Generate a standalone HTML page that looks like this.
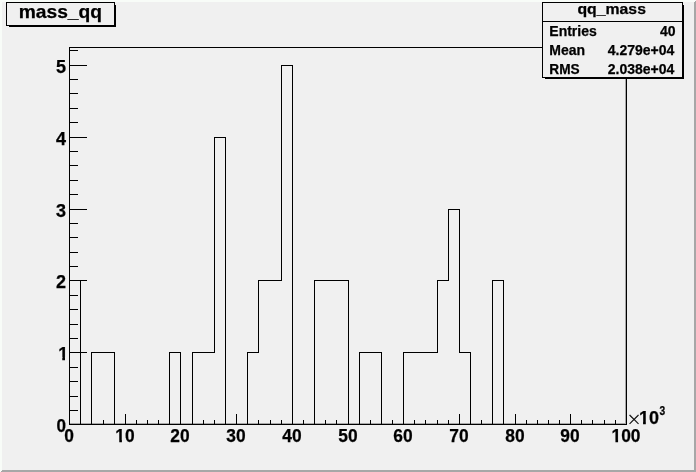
<!DOCTYPE html>
<html><head><meta charset="utf-8"><title>mass_qq</title>
<style>html,body{margin:0;padding:0;background:#f0f0f0;}svg{display:block;}</style>
</head><body>
<svg width="696" height="472" viewBox="0 0 696 472">
<rect width="696" height="472" fill="#f0f0f0"/>
<g shape-rendering="crispEdges" stroke-width="1">
<polygon points="0,0 696,0 694,2 2,2 2,470 0,472" fill="#f8fcf8"/>
<polygon points="696,0 696,472 0,472 2,470 694,470 694,2" fill="#a7a7a7"/>
<rect x="70" y="423" width="556" height="1" fill="#a7a7a7"/>
<rect x="625" y="48" width="1" height="376" fill="#a7a7a7"/>
<path d="M69.5,424.5 L69.5,280.5 L80.5,280.5 L80.5,424.5 L91.5,424.5 L91.5,352.5 L103.5,352.5 L103.5,352.5 L114.5,352.5 L114.5,424.5 L125.5,424.5 L125.5,424.5 L136.5,424.5 L136.5,424.5 L147.5,424.5 L147.5,424.5 L158.5,424.5 L158.5,424.5 L169.5,424.5 L169.5,352.5 L180.5,352.5 L180.5,424.5 L192.5,424.5 L192.5,352.5 L203.5,352.5 L203.5,352.5 L214.5,352.5 L214.5,137.5 L225.5,137.5 L225.5,424.5 L236.5,424.5 L236.5,424.5 L247.5,424.5 L247.5,352.5 L258.5,352.5 L258.5,280.5 L270.5,280.5 L270.5,280.5 L281.5,280.5 L281.5,65.5 L292.5,65.5 L292.5,424.5 L303.5,424.5 L303.5,424.5 L314.5,424.5 L314.5,280.5 L325.5,280.5 L325.5,280.5 L336.5,280.5 L336.5,280.5 L348.5,280.5 L348.5,424.5 L359.5,424.5 L359.5,352.5 L370.5,352.5 L370.5,352.5 L381.5,352.5 L381.5,424.5 L392.5,424.5 L392.5,424.5 L403.5,424.5 L403.5,352.5 L414.5,352.5 L414.5,352.5 L425.5,352.5 L425.5,352.5 L437.5,352.5 L437.5,280.5 L448.5,280.5 L448.5,209.5 L459.5,209.5 L459.5,352.5 L470.5,352.5 L470.5,424.5 L481.5,424.5 L481.5,424.5 L492.5,424.5 L492.5,280.5 L503.5,280.5 L503.5,424.5 L515.5,424.5 L515.5,424.5 L526.5,424.5 L526.5,424.5 L537.5,424.5 L537.5,424.5 L548.5,424.5 L548.5,424.5 L559.5,424.5 L559.5,424.5 L570.5,424.5 L570.5,424.5 L581.5,424.5 L581.5,424.5 L592.5,424.5 L592.5,424.5 L604.5,424.5 L604.5,424.5 L615.5,424.5 L615.5,424.5 L626.5,424.5 L626.5,424.5" fill="none" stroke="#000"/>
<rect x="69.5" y="47.5" width="557" height="377" fill="none" stroke="#000"/>
<line x1="69.5" y1="413.5" x2="69.5" y2="424.5" stroke="#000"/>
<line x1="80.5" y1="419.5" x2="80.5" y2="424.5" stroke="#000"/>
<line x1="91.5" y1="419.5" x2="91.5" y2="424.5" stroke="#000"/>
<line x1="103.5" y1="419.5" x2="103.5" y2="424.5" stroke="#000"/>
<line x1="114.5" y1="419.5" x2="114.5" y2="424.5" stroke="#000"/>
<line x1="125.5" y1="413.5" x2="125.5" y2="424.5" stroke="#000"/>
<line x1="136.5" y1="419.5" x2="136.5" y2="424.5" stroke="#000"/>
<line x1="147.5" y1="419.5" x2="147.5" y2="424.5" stroke="#000"/>
<line x1="158.5" y1="419.5" x2="158.5" y2="424.5" stroke="#000"/>
<line x1="169.5" y1="419.5" x2="169.5" y2="424.5" stroke="#000"/>
<line x1="180.5" y1="413.5" x2="180.5" y2="424.5" stroke="#000"/>
<line x1="192.5" y1="419.5" x2="192.5" y2="424.5" stroke="#000"/>
<line x1="203.5" y1="419.5" x2="203.5" y2="424.5" stroke="#000"/>
<line x1="214.5" y1="419.5" x2="214.5" y2="424.5" stroke="#000"/>
<line x1="225.5" y1="419.5" x2="225.5" y2="424.5" stroke="#000"/>
<line x1="236.5" y1="413.5" x2="236.5" y2="424.5" stroke="#000"/>
<line x1="247.5" y1="419.5" x2="247.5" y2="424.5" stroke="#000"/>
<line x1="258.5" y1="419.5" x2="258.5" y2="424.5" stroke="#000"/>
<line x1="270.5" y1="419.5" x2="270.5" y2="424.5" stroke="#000"/>
<line x1="281.5" y1="419.5" x2="281.5" y2="424.5" stroke="#000"/>
<line x1="292.5" y1="413.5" x2="292.5" y2="424.5" stroke="#000"/>
<line x1="303.5" y1="419.5" x2="303.5" y2="424.5" stroke="#000"/>
<line x1="314.5" y1="419.5" x2="314.5" y2="424.5" stroke="#000"/>
<line x1="325.5" y1="419.5" x2="325.5" y2="424.5" stroke="#000"/>
<line x1="336.5" y1="419.5" x2="336.5" y2="424.5" stroke="#000"/>
<line x1="348.5" y1="413.5" x2="348.5" y2="424.5" stroke="#000"/>
<line x1="359.5" y1="419.5" x2="359.5" y2="424.5" stroke="#000"/>
<line x1="370.5" y1="419.5" x2="370.5" y2="424.5" stroke="#000"/>
<line x1="381.5" y1="419.5" x2="381.5" y2="424.5" stroke="#000"/>
<line x1="392.5" y1="419.5" x2="392.5" y2="424.5" stroke="#000"/>
<line x1="403.5" y1="413.5" x2="403.5" y2="424.5" stroke="#000"/>
<line x1="414.5" y1="419.5" x2="414.5" y2="424.5" stroke="#000"/>
<line x1="425.5" y1="419.5" x2="425.5" y2="424.5" stroke="#000"/>
<line x1="437.5" y1="419.5" x2="437.5" y2="424.5" stroke="#000"/>
<line x1="448.5" y1="419.5" x2="448.5" y2="424.5" stroke="#000"/>
<line x1="459.5" y1="413.5" x2="459.5" y2="424.5" stroke="#000"/>
<line x1="470.5" y1="419.5" x2="470.5" y2="424.5" stroke="#000"/>
<line x1="481.5" y1="419.5" x2="481.5" y2="424.5" stroke="#000"/>
<line x1="492.5" y1="419.5" x2="492.5" y2="424.5" stroke="#000"/>
<line x1="503.5" y1="419.5" x2="503.5" y2="424.5" stroke="#000"/>
<line x1="515.5" y1="413.5" x2="515.5" y2="424.5" stroke="#000"/>
<line x1="526.5" y1="419.5" x2="526.5" y2="424.5" stroke="#000"/>
<line x1="537.5" y1="419.5" x2="537.5" y2="424.5" stroke="#000"/>
<line x1="548.5" y1="419.5" x2="548.5" y2="424.5" stroke="#000"/>
<line x1="559.5" y1="419.5" x2="559.5" y2="424.5" stroke="#000"/>
<line x1="570.5" y1="413.5" x2="570.5" y2="424.5" stroke="#000"/>
<line x1="581.5" y1="419.5" x2="581.5" y2="424.5" stroke="#000"/>
<line x1="592.5" y1="419.5" x2="592.5" y2="424.5" stroke="#000"/>
<line x1="604.5" y1="419.5" x2="604.5" y2="424.5" stroke="#000"/>
<line x1="615.5" y1="419.5" x2="615.5" y2="424.5" stroke="#000"/>
<line x1="626.5" y1="413.5" x2="626.5" y2="424.5" stroke="#000"/>
<line x1="69.5" y1="424.5" x2="86.5" y2="424.5" stroke="#000"/>
<line x1="69.5" y1="410.5" x2="77.5" y2="410.5" stroke="#000"/>
<line x1="69.5" y1="396.5" x2="77.5" y2="396.5" stroke="#000"/>
<line x1="69.5" y1="381.5" x2="77.5" y2="381.5" stroke="#000"/>
<line x1="69.5" y1="367.5" x2="77.5" y2="367.5" stroke="#000"/>
<line x1="69.5" y1="352.5" x2="86.5" y2="352.5" stroke="#000"/>
<line x1="69.5" y1="338.5" x2="77.5" y2="338.5" stroke="#000"/>
<line x1="69.5" y1="324.5" x2="77.5" y2="324.5" stroke="#000"/>
<line x1="69.5" y1="309.5" x2="77.5" y2="309.5" stroke="#000"/>
<line x1="69.5" y1="295.5" x2="77.5" y2="295.5" stroke="#000"/>
<line x1="69.5" y1="280.5" x2="86.5" y2="280.5" stroke="#000"/>
<line x1="69.5" y1="266.5" x2="77.5" y2="266.5" stroke="#000"/>
<line x1="69.5" y1="252.5" x2="77.5" y2="252.5" stroke="#000"/>
<line x1="69.5" y1="237.5" x2="77.5" y2="237.5" stroke="#000"/>
<line x1="69.5" y1="223.5" x2="77.5" y2="223.5" stroke="#000"/>
<line x1="69.5" y1="209.5" x2="86.5" y2="209.5" stroke="#000"/>
<line x1="69.5" y1="194.5" x2="77.5" y2="194.5" stroke="#000"/>
<line x1="69.5" y1="180.5" x2="77.5" y2="180.5" stroke="#000"/>
<line x1="69.5" y1="165.5" x2="77.5" y2="165.5" stroke="#000"/>
<line x1="69.5" y1="151.5" x2="77.5" y2="151.5" stroke="#000"/>
<line x1="69.5" y1="137.5" x2="86.5" y2="137.5" stroke="#000"/>
<line x1="69.5" y1="122.5" x2="77.5" y2="122.5" stroke="#000"/>
<line x1="69.5" y1="108.5" x2="77.5" y2="108.5" stroke="#000"/>
<line x1="69.5" y1="93.5" x2="77.5" y2="93.5" stroke="#000"/>
<line x1="69.5" y1="79.5" x2="77.5" y2="79.5" stroke="#000"/>
<line x1="69.5" y1="65.5" x2="86.5" y2="65.5" stroke="#000"/>
<line x1="69.5" y1="50.5" x2="77.5" y2="50.5" stroke="#000"/>
<rect x="9" y="26" width="107" height="1" fill="#000"/>
<rect x="115" y="5" width="1" height="22" fill="#000"/>
<rect x="6.5" y="2.5" width="108" height="23" fill="#f0f0f0" stroke="#000"/>
<rect x="545" y="78" width="139" height="1" fill="#000"/>
<rect x="683" y="5" width="1" height="74" fill="#000"/>
<rect x="542.5" y="2.5" width="140" height="75" fill="#f0f0f0" stroke="#000"/>
<line x1="542.5" y1="21.5" x2="682.5" y2="21.5" stroke="#000"/>
</g>
<g style="will-change:transform" font-family='"Liberation Sans", Arial, sans-serif' font-weight="bold" fill="#000" stroke="#000" stroke-width="0.25">
<text x="60.35" y="18.2" font-size="18.4" text-anchor="middle" textLength="83.4" lengthAdjust="spacingAndGlyphs">mass_qq</text>
<text x="611.7" y="14.4" font-size="14.6" text-anchor="middle" textLength="68.5" lengthAdjust="spacingAndGlyphs">qq_mass</text>
<text x="549.3" y="36.0" font-size="14" text-anchor="start" >Entries</text>
<text x="675.5" y="36.0" font-size="14" text-anchor="end" >40</text>
<text x="549.3" y="54.9" font-size="14" text-anchor="start" >Mean</text>
<text x="674.3" y="54.9" font-size="14" text-anchor="end" >4.279e+04</text>
<text x="549.3" y="73.8" font-size="14" text-anchor="start" textLength="30.4" lengthAdjust="spacingAndGlyphs">RMS</text>
<text x="674.3" y="73.8" font-size="14" text-anchor="end" >2.038e+04</text>
<text x="66" y="431.9" font-size="18" text-anchor="end" textLength="9.5" lengthAdjust="spacingAndGlyphs">0</text>
<text x="68.2" y="359.9" font-size="18" text-anchor="end" >1</text>
<text x="66" y="287.9" font-size="18" text-anchor="end" >2</text>
<text x="66" y="216.9" font-size="18" text-anchor="end" >3</text>
<text x="66" y="144.9" font-size="18" text-anchor="end" >4</text>
<text x="66" y="72.9" font-size="18" text-anchor="end" >5</text>
<text x="69" y="442.3" font-size="18" text-anchor="middle" textLength="9.66" lengthAdjust="spacingAndGlyphs">0</text>
<text x="125" y="442.3" font-size="18" text-anchor="middle" textLength="19.32" lengthAdjust="spacingAndGlyphs">10</text>
<text x="180" y="442.3" font-size="18" text-anchor="middle" textLength="19.32" lengthAdjust="spacingAndGlyphs">20</text>
<text x="236" y="442.3" font-size="18" text-anchor="middle" textLength="19.32" lengthAdjust="spacingAndGlyphs">30</text>
<text x="292" y="442.3" font-size="18" text-anchor="middle" textLength="19.32" lengthAdjust="spacingAndGlyphs">40</text>
<text x="348" y="442.3" font-size="18" text-anchor="middle" textLength="19.32" lengthAdjust="spacingAndGlyphs">50</text>
<text x="403" y="442.3" font-size="18" text-anchor="middle" textLength="19.32" lengthAdjust="spacingAndGlyphs">60</text>
<text x="459" y="442.3" font-size="18" text-anchor="middle" textLength="19.32" lengthAdjust="spacingAndGlyphs">70</text>
<text x="515" y="442.3" font-size="18" text-anchor="middle" textLength="19.32" lengthAdjust="spacingAndGlyphs">80</text>
<text x="570" y="442.3" font-size="18" text-anchor="middle" textLength="19.32" lengthAdjust="spacingAndGlyphs">90</text>
<text x="626" y="442.3" font-size="18" text-anchor="middle" textLength="28.97" lengthAdjust="spacingAndGlyphs">100</text>
<text x="626.5" y="425.4" font-size="18" text-anchor="start" font-weight="200" font-family="DejaVu Sans">&#215;</text>
<text x="639.0" y="424.2" font-size="18" text-anchor="start" >10</text>
<text x="659.4" y="414.55" font-size="12.8" text-anchor="start" textLength="5.7" lengthAdjust="spacingAndGlyphs">3</text>
</g>
<g>
<rect x="59" y="357" width="3.268" height="4" fill="#f0f0f0"/>
<rect x="64.988" y="357" width="4.012" height="4" fill="#f0f0f0"/>
<rect x="116" y="440" width="3.271" height="3" fill="#f0f0f0"/>
<rect x="121.905" y="440" width="3.095" height="3" fill="#f0f0f0"/>
<rect x="612" y="440" width="3.443" height="3" fill="#f0f0f0"/>
<rect x="618.076" y="440" width="2.924" height="3" fill="#f0f0f0"/>
<rect x="639" y="422" width="4.076" height="3" fill="#f0f0f0"/>
<rect x="645.796" y="422" width="3.204" height="3" fill="#f0f0f0"/>
</g>
</svg>
</body></html>
